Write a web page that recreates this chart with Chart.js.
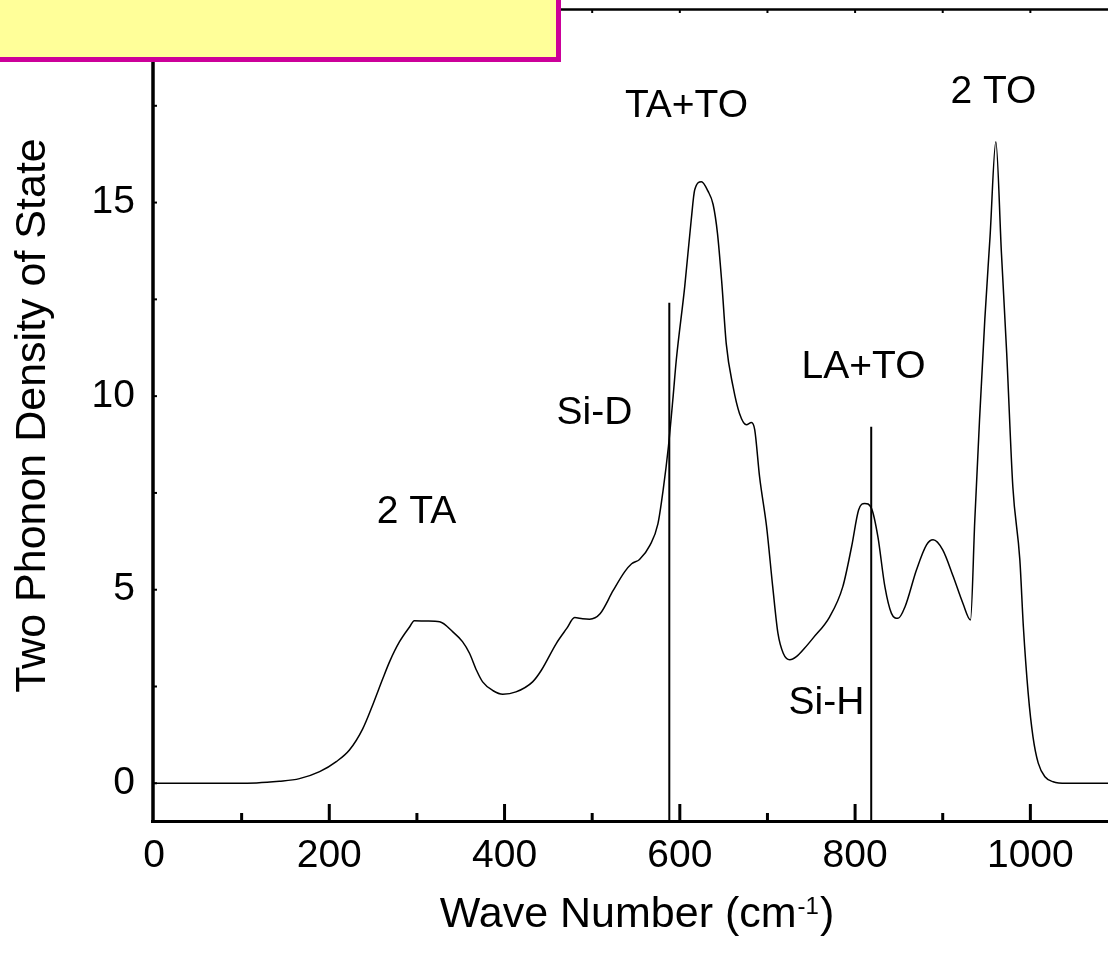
<!DOCTYPE html>
<html>
<head>
<meta charset="utf-8">
<script src="https://cdn.jsdelivr.net/npm/chart.js@4.4.1/dist/chart.umd.min.js"></script>
<style>
  html, body { margin: 0; padding: 0; background: #fff; overflow: hidden; }
  #wrap { position: relative; width: 1108px; height: 956px; overflow: hidden; }
  #phononChart { position: absolute; left: 0; top: 0; }
  #note { position: absolute; left: -10px; top: -10px; width: 571px; height: 72px;
          box-sizing: border-box; border: 5px solid #cc0099; background: #ffff99; }
</style>
</head>
<body>
<div id="wrap">
  <canvas id="phononChart" width="1140" height="956"></canvas>
  <div id="note"></div>
</div>
<script>
// Two phonon density of state
const waveNumber = [
    0, 60, 117, 143, 166, 189, 208, 223, 238, 250,
    261, 269, 280, 292, 297, 311, 326, 341, 352, 360,
    368, 375, 387, 398, 413, 432, 442, 459, 471, 480,
    489, 497, 509, 524, 537, 545, 554, 566, 575, 581,
    587, 592, 596, 605.6, 613, 617, 624.7, 632, 638, 643,
    648, 653, 660.7, 668, 676, 681.7, 685.5, 691, 699, 706,
    712, 718, 725.5, 733, 742, 752, 771, 786, 796, 804,
    811, 818.7, 826, 834, 841.5, 849, 857, 870, 881.5, 889,
    900, 912, 923, 931.7, 936.6, 942, 948, 954, 960.6, 967,
    973, 980, 988, 992, 997.5, 1003, 1009, 1016.6, 1026, 1041,
    1100
];
const density = [
    0, 0, 0.01, 0.05, 0.12, 0.30, 0.56, 0.86, 1.40, 2.05,
    2.70, 3.15, 3.65, 4.05, 4.20, 4.19, 4.17, 3.91, 3.66, 3.36,
    2.92, 2.62, 2.39, 2.30, 2.36, 2.62, 2.92, 3.61, 4.00, 4.28,
    4.25, 4.24, 4.38, 4.98, 5.46, 5.67, 5.78, 6.15, 6.70, 7.58,
    8.70, 9.90, 10.94, 12.83, 14.55, 15.33, 15.54, 15.30, 14.95, 14.20,
    12.90, 11.35, 10.25, 9.56, 9.26, 9.32, 9.13, 7.92, 6.63, 5.08,
    3.87, 3.36, 3.19, 3.27, 3.48, 3.75, 4.30, 5.08, 6.11, 7.06,
    7.23, 7.10, 6.37, 5.08, 4.39, 4.26, 4.56, 5.51, 6.16, 6.29,
    6.03, 5.34, 4.65, 4.22, 6.80, 9.39, 11.97, 14.12, 16.57, 13.69,
    11.11, 7.66, 5.77, 4.05, 2.33, 1.20, 0.52, 0.17, 0.04, 0,
    0
];

// Si-D and Si-H vibration lines
const markerX = [588, 818.4];
const markerTop = [12.41, 9.21];

// Peak labels
const labelText = ['2 TA', 'Si-D', 'TA+TO', '2 TO', 'LA+TO', 'Si-H'];
const labelX = [299.5, 502.6, 607.6, 957.9, 809.6, 767.3];
const labelY = [7.0, 9.57, 17.5, 17.86, 10.75, 2.07];

// Axis ticks
const xTicks = [0, 200, 400, 600, 800, 1000];
const xMinorTicks = [100, 300, 500, 700, 900, 1100];
const yTicks = [0, 5, 10, 15];
const yFrameTicks = [0, 2.5, 5, 7.5, 10, 12.5, 15, 17.5];

const FONT = '"Liberation Sans", Arial, Helvetica, sans-serif';
Chart.defaults.font.family = FONT;
Chart.defaults.color = '#000';

// Draw axis lines and inward ticks
const framePlugin = {
    id: 'frame',
    afterDraw(chart) {
        const { ctx, chartArea: a, scales: { x, y } } = chart;
        ctx.save();
        ctx.strokeStyle = '#000';
        const seg = (x1, y1, x2, y2, w) => {
            ctx.lineWidth = w;
            ctx.beginPath();
            ctx.moveTo(x1, y1);
            ctx.lineTo(x2, y2);
            ctx.stroke();
        };
        // top frame
        seg(a.left, a.top + 0.5, chart.width, a.top + 0.5, 2.5);
        xTicks.concat(xMinorTicks).forEach(v => {
            const px = x.getPixelForValue(v);
            if (v > 0) seg(px, a.top, px, a.top + 4, 2);
        });
        // bottom axis
        seg(a.left - 3, a.bottom - 0.5, chart.width, a.bottom - 0.5, 3);
        xTicks.forEach(v => {
            const px = x.getPixelForValue(v);
            if (v > 0) seg(px, a.bottom, px, a.bottom - 18, 3);
        });
        xMinorTicks.forEach(v => {
            const px = x.getPixelForValue(v);
            seg(px, a.bottom, px, a.bottom - 9, 3);
        });
        // left axis
        seg(a.left - 1, a.top, a.left - 1, a.bottom + 1, 3.5);
        yFrameTicks.forEach(v => {
            const py = y.getPixelForValue(v);
            seg(a.left, py, a.left + 3, py, 2);
        });
        ctx.restore();
    }
};

// Peak names and the x axis title with its superscript
const textPlugin = {
    id: 'texts',
    afterDraw(chart) {
        const { ctx, chartArea: a, scales: { x, y } } = chart;
        ctx.save();
        ctx.fillStyle = '#000';
        ctx.font = '39px ' + FONT;
        ctx.textAlign = 'center';
        ctx.textBaseline = 'middle';
        labelText.forEach((t, i) => {
            ctx.fillText(t, x.getPixelForValue(labelX[i]), y.getPixelForValue(labelY[i]));
        });

        const main = 'Wave Number (cm', sup = '-1', close = ')';
        ctx.textAlign = 'left';
        ctx.textBaseline = 'alphabetic';
        ctx.font = '43px ' + FONT;
        const w1 = ctx.measureText(main).width;
        const w3 = ctx.measureText(close).width;
        ctx.font = '24px ' + FONT;
        const w2 = ctx.measureText(sup).width;
        const cx = (a.left + a.right) / 2;
        const base = a.bottom + 105;
        let px = cx - (w1 + w2 + w3) / 2;
        ctx.font = '43px ' + FONT;
        ctx.fillText(main, px, base);
        px += w1 + 1;
        ctx.font = '24px ' + FONT;
        ctx.fillText(sup, px, base - 13);
        px += w2 + 1;
        ctx.font = '43px ' + FONT;
        ctx.fillText(close, px, base);
        ctx.restore();
    }
};

function buildDatasets() {
    const curve = {
        data: waveNumber.map((w, i) => ({ x: w, y: density[i] })),
        borderColor: '#000',
        borderWidth: 1.5,
        pointRadius: 0,
        showLine: true,
        cubicInterpolationMode: 'monotone',
        fill: false
    };
    const markers = markerX.map((mx, i) => ({
        data: [{ x: mx, y: -1 }, { x: mx, y: markerTop[i] }],
        borderColor: '#000',
        borderWidth: 2,
        pointRadius: 0,
        showLine: true
    }));
    return [curve, ...markers];
}

document.addEventListener('DOMContentLoaded', function() {
    const ctx = document.getElementById('phononChart').getContext('2d');
    new Chart(ctx, {
        type: 'scatter',
        data: { datasets: buildDatasets() },
        plugins: [framePlugin, textPlugin],
        options: {
            responsive: false,
            animation: false,
            events: [],
            layout: { padding: { top: 9, right: 22, left: 0, bottom: 0 } },
            plugins: { legend: { display: false }, tooltip: { enabled: false } },
            scales: {
                x: {
                    type: 'linear',
                    min: 0,
                    max: 1100,
                    grid: { display: false, drawTicks: false },
                    border: { display: false },
                    afterBuildTicks: s => { s.ticks = xTicks.map(v => ({ value: v })); },
                    afterFit: s => { s.height = 134; s.paddingLeft = 0; s.paddingRight = 0; },
                    ticks: { font: { size: 39 }, padding: 11, maxRotation: 0, autoSkip: false,
                             callback: v => String(v) }
                },
                y: {
                    type: 'linear',
                    min: -1,
                    max: 20,
                    grid: { display: false, drawTicks: false },
                    border: { display: false },
                    afterBuildTicks: s => { s.ticks = yTicks.map(v => ({ value: v })); },
                    afterFit: s => { s.width = 154; s.paddingTop = 0; s.paddingBottom = 0; },
                    ticks: { font: { size: 39 }, padding: 19, callback: v => String(v) },
                    title: {
                        display: true,
                        text: 'Two Phonon Density of State',
                        font: { size: 43 },
                        padding: { top: 7, bottom: 0 }
                    }
                }
            }
        }
    });
});
</script>
</body>
</html>
